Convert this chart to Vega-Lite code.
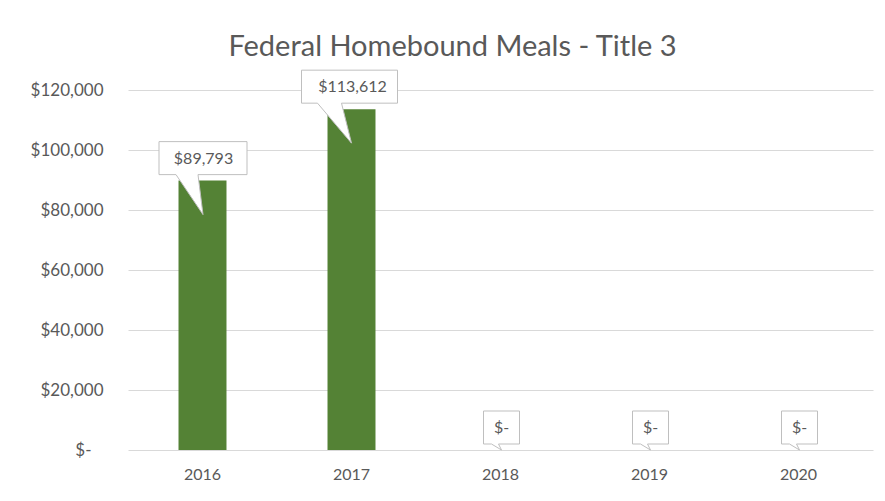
{
  "$schema": "https://vega.github.io/schema/vega-lite/v6.json",
  "width": 745,
  "height": 360,
  "autosize": {"type": "none"},
  "padding": {"left": 128, "top": 90, "right": 12, "bottom": 51},
  "background": "white",
  "title": {
    "text": "Federal Homebound Meals - Title 3",
    "font": "Lato",
    "fontSize": 29,
    "fontWeight": "normal",
    "color": "#595959",
    "dx": -48,
    "offset": 6
  },
  "data": {
    "values": [
      {"year": "2016", "value": 89793, "label": "$89,793"},
      {"year": "2017", "value": 113612, "label": "$113,612"},
      {"year": "2018", "value": 0, "label": "$-"},
      {"year": "2019", "value": 0, "label": "$-"},
      {"year": "2020", "value": 0, "label": "$-"}
    ]
  },
  "encoding": {
    "x": {
      "field": "year",
      "type": "nominal",
      "sort": null,
      "scale": {"paddingInner": 0.678, "paddingOuter": 0.339},
      "axis": {
        "title": null,
        "labelAngle": 0,
        "labelFont": "Lato",
        "labelFontSize": 16,
        "labelColor": "#595959",
        "ticks": false,
        "domain": false,
        "labelPadding": 16
      }
    },
    "y": {
      "field": "value",
      "type": "quantitative",
      "scale": {"domain": [0, 120000], "nice": false},
      "axis": {
        "title": null,
        "values": [0, 20000, 40000, 60000, 80000, 100000, 120000],
        "labelExpr": "datum.value == 0 ? '$-\u2800' : '$' + format(datum.value, ',')",
        "labelFont": "Lato",
        "labelFontSize": 17,
        "labelColor": "#595959",
        "ticks": false,
        "domain": false,
        "labelPadding": 25,
        "gridColor": "#d9d9d9",
        "gridWidth": 1
      }
    }
  },
  "layer": [
    {
      "mark": {"type": "bar", "color": "#548235"}
    },
    {
      "mark": {
        "type": "point",
        "filled": true,
        "fill": "white",
        "fillOpacity": 1,
        "stroke": "#bfbfbf",
        "strokeWidth": 1,
        "opacity": 1,
        "size": 4
      },
      "encoding": {
        "shape": {
          "field": "year",
          "type": "nominal",
          "legend": null,
          "scale": {
            "domain": ["2016", "2017", "2018", "2019", "2020"],
            "range": [
              "M-43.5,-39L44.5,-39L44.5,-6L-4.5,-6L0.5,34L-26.5,-6L-43.5,-6Z",
              "M-50,-39L46,-39L46,-6L-10,-6L0,34L-34,-6L-50,-6Z",
              "M-17,-39L19,-39L19,-6L-2,-6L1,0L-9,-6L-17,-6Z",
              "M-17,-39L19,-39L19,-6L-2,-6L1,0L-9,-6L-17,-6Z",
              "M-17,-39L19,-39L19,-6L-2,-6L1,0L-9,-6L-17,-6Z"
            ]
          }
        }
      }
    },
    {
      "mark": {
        "type": "text",
        "font": "Lato",
        "fontSize": 16,
        "color": "#595959",
        "baseline": "middle",
        "align": "center",
        "dy": -22,
        "dx": 1
      },
      "encoding": {
        "text": {"field": "label", "type": "nominal"}
      }
    }
  ],
  "config": {"view": {"stroke": null}}
}
